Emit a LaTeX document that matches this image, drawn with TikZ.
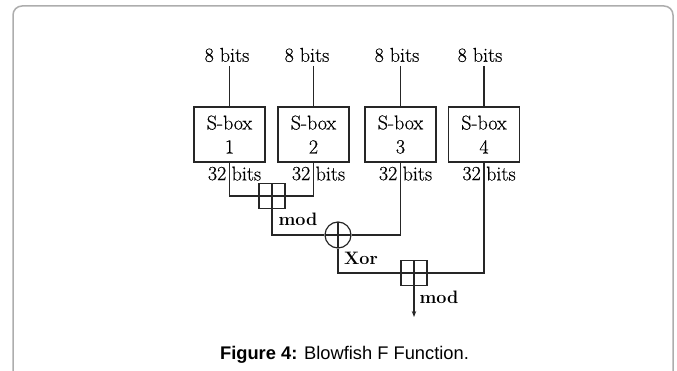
\documentclass[tikz,border=0pt]{standalone}
\usepackage{fontspec}
\newfontfamily\capfont{Liberation Sans}
\newfontfamily\heavyfont{Latin Modern Roman}[FakeBold=0.5]
\usetikzlibrary{arrows.meta,calc}
\begin{document}
\begin{tikzpicture}[x=1pt,y=-1pt,
  wire/.style={line width=1.2pt,black!85},
  sbox/.style={draw=black!85,line width=1.2pt,minimum width=71pt,minimum height=55pt,inner sep=0pt,align=center,font=\heavyfont\fontsize{20}{23}\selectfont},
  lbl/.style={font=\heavyfont\fontsize{20}{24}\selectfont,inner sep=0pt},
  blbl/.style={font=\fontsize{18}{22}\selectfont\bfseries,inner sep=0pt},
  addbox/.style={draw=black!85,line width=1.2pt,minimum width=26pt,minimum height=25pt,inner sep=0pt,
    path picture={\draw[line width=1.2pt,black!85] (path picture bounding box.north) -- (path picture bounding box.south)
      (path picture bounding box.west) -- (path picture bounding box.east);}},
  xorc/.style={draw=black!85,line width=1.2pt,circle,minimum size=26pt,inner sep=0pt,
    path picture={\draw[line width=1.2pt,black!85] (path picture bounding box.north) -- (path picture bounding box.south)
      (path picture bounding box.west) -- (path picture bounding box.east);}}
]
\useasboundingbox (0,0) rectangle (677,371);
\draw[line width=1.5pt,black!32,rounded corners=9pt] (13,400) -- (13,6) -- (673,6) -- (673,400);

% input labels
\node[lbl] (in1) at (227,55) {8 bits};
\node[lbl] (in2) at (307,55) {8 bits};
\node[lbl] (in3) at (397,55) {8 bits};
\node[lbl] (in4) at (480,55) {8 bits};

% S-boxes
\node[sbox] (s1) at (229.5,134.5) {S-box\\[1pt]1};
\node[sbox] (s2) at (313.5,134.5) {S-box\\[1pt]2};
\node[sbox] (s3) at (400.5,134.5) {S-box\\[1pt]3};
\node[sbox] (s4) at (484,134.5) {S-box\\[1pt]4};

\foreach \i in {1,2,3,4}{
  \draw[wire] (s\i.north |- 0,66) -- (s\i.north);
  \node[lbl,anchor=east] (n\i) at ($(s\i.south)+(-3,11)$) {32};
  \node[lbl,anchor=west] (b\i) at ($(s\i.south)+(2,11)$) {bits};
}

% operators
\node[addbox] (m1) at (272,196) {};
\node[xorc] (x) at (338,235) {};
\node[addbox] (m2) at (414,273) {};
\coordinate (out) at (414,317);

\draw[wire] (s1.south) |- (m1.west);
\draw[wire] (s2.south) |- (m1.east);
\draw[wire] (m1.south) |- (x.west);
\draw[wire] (s3.south) |- (x.east);
\draw[wire] (x.south) |- (m2.west);
\draw[wire] (s4.south) |- (m2.east);
\draw[wire,-{Stealth[length=6pt,width=4.5pt]}] (m2.south) -- (out);

\node[blbl] (lm1) at (298,219) {mod};
\node[blbl] (lx) at (361,258) {Xor};
\node[blbl] (lm2) at (439,297) {mod};

\node[font=\capfont\fontsize{18.3}{22}\selectfont,inner sep=0pt,anchor=base] (cap) at (344.5,359) {\textbf{Figure 4:} Blowfish F Function.};
\end{tikzpicture}
\end{document}
